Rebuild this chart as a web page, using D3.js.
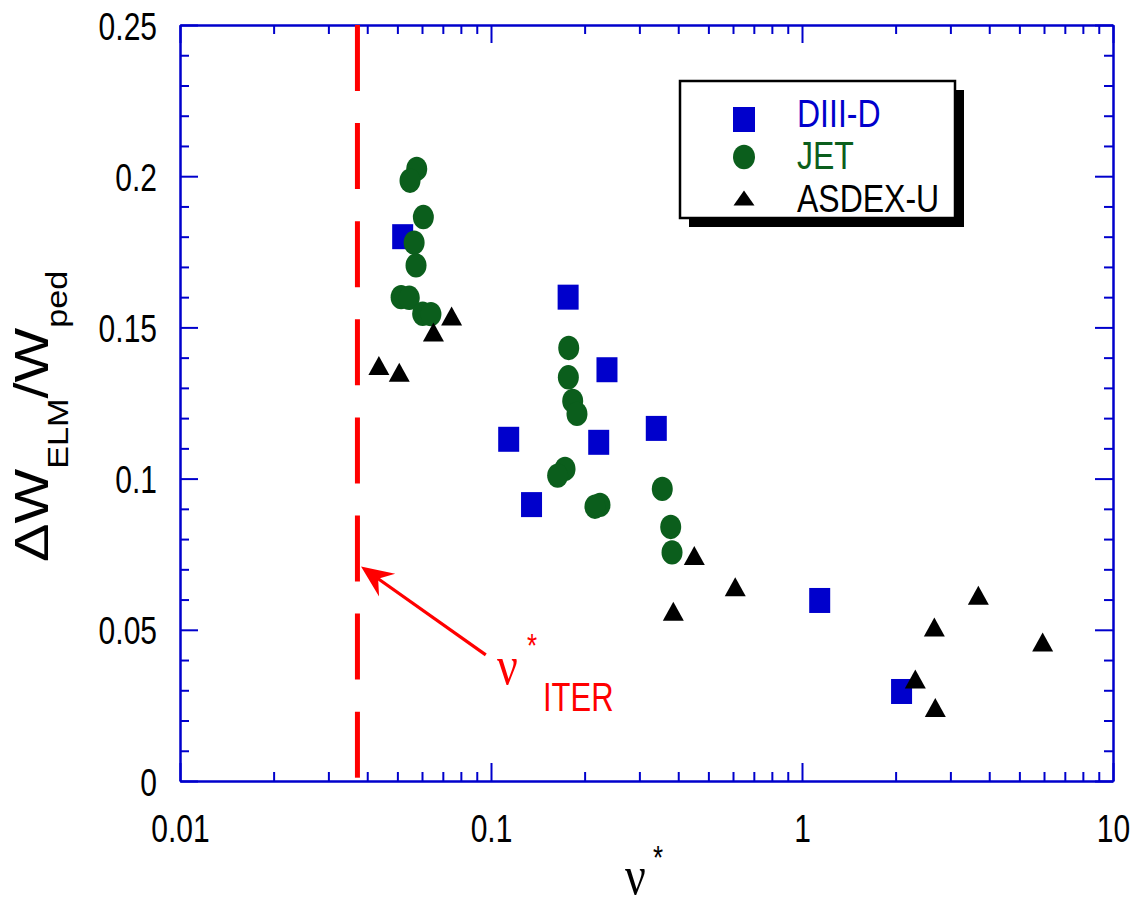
<!DOCTYPE html>
<html>
<head>
<meta charset="utf-8">
<script src="https://cdn.jsdelivr.net/npm/d3@7"></script>
<style>
  body { margin: 0; background: #fff; }
  text { font-family: "Liberation Sans", Arial, sans-serif; }
</style>
</head>
<body>
<svg width="1139" height="906"></svg>
<script>
// DIII-D squares
var diiidX = [0.052, 0.177, 0.236, 0.114, 0.222, 0.340, 0.135, 1.14, 2.09];
var diiidY = [0.180, 0.160, 0.136, 0.113, 0.112, 0.1166, 0.0914, 0.0597, 0.0296];

// JET circles
var jetX = [0.0577, 0.0549, 0.0606, 0.0566, 0.0574, 0.0514, 0.0546, 0.0603, 0.0641, 0.1778,
            0.1773, 0.1831, 0.189, 0.173, 0.1638, 0.2241, 0.2159, 0.3554, 0.3783, 0.382];
var jetY = [0.2024, 0.1985, 0.1865, 0.178, 0.1705, 0.160, 0.1598, 0.1545, 0.1544, 0.1432,
            0.1335, 0.1257, 0.1214, 0.1032, 0.101, 0.0913, 0.0907, 0.0966, 0.084, 0.0756];

// ASDEX-U triangles
var asdexX = [0.0747, 0.0653, 0.0436, 0.0507, 0.4505, 0.610, 0.3857, 3.69, 2.664, 5.94, 2.314, 2.683];
var asdexY = [0.1538, 0.1485, 0.1374, 0.1352, 0.0746, 0.0642, 0.0561, 0.0614, 0.0509, 0.046, 0.0337, 0.0243];

// ITER collisionality line and arrow (data coords)
var iterNu = 0.0372;
var arrowFrom = [0.0962, 0.0417];
var arrowTo = [0.0382, 0.0709];

var xMajor = [0.01, 0.1, 1, 10];
var yMajor = [0, 0.05, 0.1, 0.15, 0.2, 0.25];
var yMinor = [0.01, 0.02, 0.03, 0.04, 0.06, 0.07, 0.08, 0.09, 0.11, 0.12, 0.13, 0.14,
              0.16, 0.17, 0.18, 0.19, 0.21, 0.22, 0.23, 0.24];

var legendNames = ["DIII-D", "JET", "ASDEX-U"];

var blue = "#0000cc", green = "#0b5e1c", red = "#ff0000";
var stretch = 1.3; // the original figure is tall-stretched

var svg = d3.select("svg");
var pL = 180, pR = 1113, pT = 25, pB = 781;

var x = d3.scaleLog().domain([0.01, 10]).range([pL, pR]);
var y = d3.scaleLinear().domain([0, 0.25]).range([pB, pT]);

var xMinor = x.ticks().filter(function (d) { return xMajor.indexOf(d) < 0; });

// axes, ticks pointing inward
function addAxis(axis, tx, ty) {
  var g = svg.append("g").attr("transform", "translate(" + tx + "," + ty + ")").call(axis);
  g.selectAll("path, line").attr("stroke", blue).attr("stroke-width", 2);
  return g;
}
var gb = addAxis(d3.axisBottom(x).tickValues(xMajor).tickSize(-18).tickSizeOuter(0)
  .tickFormat(function (d) { return String(d); }), 0, pB);
addAxis(d3.axisBottom(x).tickValues(xMinor).tickSize(-9).tickSizeOuter(0).tickFormat(""), 0, pB);
addAxis(d3.axisTop(x).tickValues(xMajor).tickSize(-18).tickSizeOuter(0).tickFormat(""), 0, pT);
addAxis(d3.axisTop(x).tickValues(xMinor).tickSize(-9).tickSizeOuter(0).tickFormat(""), 0, pT);
var gl = addAxis(d3.axisLeft(y).tickValues(yMajor).tickSize(-18).tickSizeOuter(0)
  .tickFormat(function (d) { return String(d); }), pL, 0);
addAxis(d3.axisLeft(y).tickValues(yMinor).tickSize(-9).tickSizeOuter(0).tickFormat(""), pL, 0);
addAxis(d3.axisRight(y).tickValues(yMajor).tickSize(-18).tickSizeOuter(0).tickFormat(""), pR, 0);
addAxis(d3.axisRight(y).tickValues(yMinor).tickSize(-9).tickSizeOuter(0).tickFormat(""), pR, 0);

gb.selectAll("text")
  .attr("y", 0).attr("dy", 0)
  .attr("transform", "translate(0,61) scale(1," + stretch + ")")
  .attr("font-size", 30).attr("fill", "#000")
  .style("font-family", "Liberation Sans, Arial, sans-serif");
gl.selectAll("text")
  .attr("x", 0).attr("dy", 0)
  .attr("transform", "translate(-23,14) scale(1," + stretch + ")")
  .attr("font-size", 30).attr("fill", "#000")
  .style("font-family", "Liberation Sans, Arial, sans-serif");

// ITER dashed line
svg.append("line")
  .attr("x1", x(iterNu)).attr("x2", x(iterNu))
  .attr("y1", y(0.25)).attr("y2", y(0))
  .attr("stroke", red).attr("stroke-width", 5)
  .attr("stroke-dasharray", "66,32.1");

// markers
svg.selectAll("rect.diiid").data(diiidX).enter().append("rect")
  .attr("class", "diiid")
  .attr("x", function (d) { return x(d) - 10.5; })
  .attr("y", function (d, i) { return y(diiidY[i]) - 12.5; })
  .attr("width", 21).attr("height", 25)
  .attr("fill", blue);

svg.selectAll("ellipse.jet").data(jetX).enter().append("ellipse")
  .attr("class", "jet")
  .attr("cx", function (d) { return x(d); })
  .attr("cy", function (d, i) { return y(jetY[i]); })
  .attr("rx", 10.5).attr("ry", 12.2)
  .attr("fill", green);

function tri(w, h) {
  return "M0," + (-h / 2) + "L" + (w / 2) + "," + (h / 2) + "L" + (-w / 2) + "," + (h / 2) + "Z";
}
svg.selectAll("path.asdex").data(asdexX).enter().append("path")
  .attr("class", "asdex")
  .attr("d", tri(21, 19))
  .attr("transform", function (d, i) { return "translate(" + x(d) + "," + y(asdexY[i]) + ")"; })
  .attr("fill", "#000");

// arrow to ITER line
var ax0 = x(arrowFrom[0]), ay0 = y(arrowFrom[1]);
var ax1 = x(arrowTo[0]), ay1 = y(arrowTo[1]);
var ang = Math.atan2(ay1 - ay0, ax1 - ax0);
svg.append("line")
  .attr("x1", ax0).attr("y1", ay0)
  .attr("x2", ax1 - 18 * Math.cos(ang)).attr("y2", ay1 - 18 * Math.sin(ang))
  .attr("stroke", red).attr("stroke-width", 3.2);
svg.append("path")
  .attr("d", "M0,0L-32,-14L-21,0L-32,14Z")
  .attr("transform", "translate(" + ax1 + "," + ay1 + ") rotate(" + (ang * 180 / Math.PI) + ")")
  .attr("fill", red);

// nu*_ITER label
svg.append("text").attr("transform", "translate(497,684) scale(1,1.2)")
  .attr("font-size", 46).style("font-family", "Liberation Serif, serif").attr("fill", red).text("ν");
svg.append("text").attr("transform", "translate(527,657) scale(1," + stretch + ")")
  .attr("font-size", 26).attr("fill", red).text("*");
svg.append("text").attr("transform", "translate(543,711) scale(1," + stretch + ")")
  .attr("font-size", 31).attr("fill", red).text("ITER");

// legend
var lg = svg.append("g");
lg.append("rect").attr("x", 689).attr("y", 90).attr("width", 275).attr("height", 137).attr("fill", "#000");
lg.append("rect").attr("x", 680).attr("y", 81).attr("width", 275).attr("height", 137)
  .attr("fill", "#fff").attr("stroke", "#000").attr("stroke-width", 2.5);
var legendColors = [blue, green, "#000"];
var legendY = [119.5, 157, 198];
var legendBase = [127, 169, 212];
lg.append("rect").attr("x", 733).attr("y", legendY[0] - 12.5).attr("width", 22).attr("height", 25).attr("fill", blue);
lg.append("ellipse").attr("cx", 744).attr("cy", legendY[1]).attr("rx", 11).attr("ry", 12.2).attr("fill", green);
lg.append("path").attr("d", tri(21, 15)).attr("transform", "translate(744," + legendY[2] + ")").attr("fill", "#000");
lg.selectAll("text.leg").data(legendNames).enter().append("text")
  .attr("class", "leg")
  .attr("transform", function (d, i) { return "translate(797," + legendBase[i] + ") scale(1,1.22)"; })
  .attr("font-size", 32)
  .attr("fill", function (d, i) { return legendColors[i]; })
  .text(function (d) { return d; });

// x axis title
svg.append("text").attr("transform", "translate(625,894) scale(1,1.2)")
  .attr("font-size", 46).style("font-family", "Liberation Serif, serif").text("ν");
svg.append("text").attr("transform", "translate(653,869) scale(1," + stretch + ")")
  .attr("font-size", 26).text("*");

// y axis title (rotated, stretched along its length)
var yt = svg.append("text")
  .attr("transform", "translate(48,562) rotate(-90) scale(1.18,1)")
  .attr("font-size", 49);
yt.append("tspan").text("ΔW");
yt.append("tspan").attr("font-size", 29).attr("dy", 20).text("ELM");
yt.append("tspan").attr("dy", -20).text("/W");
yt.append("tspan").attr("font-size", 29).attr("dy", 19).text("ped");
</script>
</body>
</html>
